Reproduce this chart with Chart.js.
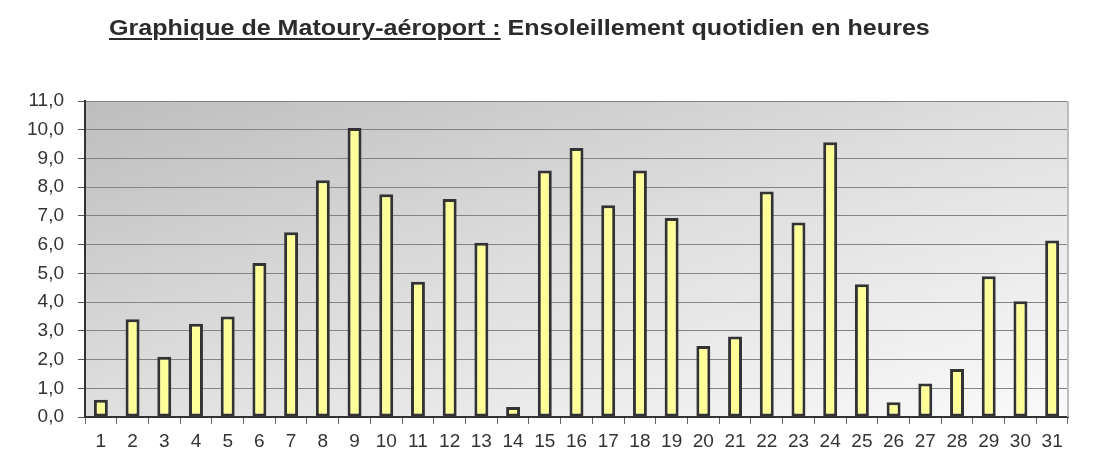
<!DOCTYPE html>
<html>
<head>
<meta charset="utf-8">
<script src="https://cdn.jsdelivr.net/npm/chart.js@4/dist/chart.umd.min.js"></script>
<style>
  html, body { margin: 0; padding: 0; background: #ffffff; }
  #wrap { position: relative; width: 1094px; height: 466px; }
  #title {
    position: absolute; left: 109px; top: 15px;
    font-family: "Liberation Sans", Arial, sans-serif; font-weight: bold; font-size: 22px;
    color: #2b2b2b; white-space: nowrap;
    transform: scaleX(1.14); transform-origin: 0 0;
  }
  #title u { text-decoration-thickness: 2px; text-underline-offset: 3px; }
  canvas { position: absolute; left: 0; top: 0; }
</style>
</head>
<body>
<div id="wrap">
  <canvas id="c" width="1094" height="466"></canvas>
  <div id="title"><u>Graphique de Matoury-aéroport :</u> Ensoleillement quotidien en heures</div>
</div>
<script>
const days = ['1','2','3','4','5','6','7','8','9','10','11','12','13','14','15','16','17','18','19','20','21','22','23','24','25','26','27','28','29','30','31'];
const sunshineHours = [0.6, 3.4, 2.1, 3.25, 3.5, 5.36, 6.43, 8.24, 10.06, 7.75,
                       4.71, 7.59, 6.07, 0.35, 8.58, 9.36, 7.37, 8.58, 6.93, 2.47,
                       2.8, 7.85, 6.77, 9.56, 4.62, 0.51, 1.17, 1.67, 4.9, 4.03, 6.14];
const yMin = 0, yMax = 11, yStep = 1;

const plotBackground = {
  id: 'plotBackground',
  beforeDraw(chart) {
    const {ctx, chartArea: a} = chart;
    ctx.save();
    ctx.translate(a.left, a.top);
    ctx.scale(a.right - a.left, a.bottom - a.top);
    const g = ctx.createLinearGradient(0, 0, 1, 1);
    g.addColorStop(0, '#bdbdbd');
    g.addColorStop(0.5, '#dfdfdf');
    g.addColorStop(1, '#fafafa');
    ctx.fillStyle = g;
    ctx.fillRect(0, 0, 1, 1);
    ctx.restore();
  },
  afterDraw(chart) {
    const {ctx, chartArea: a} = chart;
    ctx.save();
    ctx.strokeStyle = '#bdbdbd';
    ctx.lineWidth = 2;
    ctx.beginPath();
    ctx.moveTo(a.right, a.top);
    ctx.lineTo(a.right, a.bottom);
    ctx.stroke();
    ctx.restore();
  }
};

new Chart(document.getElementById('c'), {
  type: 'bar',
  data: {
    labels: days,
    datasets: [{
      data: sunshineHours,
      backgroundColor: '#ffff99',
      borderColor: '#333333',
      borderWidth: 3,
      borderSkipped: false,
      categoryPercentage: 1,
      barPercentage: 0.44
    }]
  },
  options: {
    responsive: false,
    animation: false,
    layout: { padding: { top: 101, right: 26, bottom: 0, left: 0 } },
    plugins: { legend: { display: false }, title: { display: false }, tooltip: { enabled: false } },
    scales: {
      x: {
        grid: { offset: true, drawOnChartArea: false, drawTicks: true, tickLength: 7, color: '#666666' },
        border: { color: '#333333', width: 2 },
        ticks: { color: '#333333', font: { family: 'Liberation Sans', size: 19 }, padding: 6, maxRotation: 0, autoSkip: false },
        afterFit(s) { s.height = 49; }
      },
      y: {
        min: yMin, max: yMax,
        grid: { color: '#848484', lineWidth: 1, tickLength: 7, tickColor: '#555555' },
        border: { color: '#333333', width: 2 },
        ticks: {
          stepSize: yStep, color: '#333333', padding: 14,
          font: { family: 'Liberation Sans', size: 19 },
          callback: v => v.toFixed(1).replace('.', ',')
        },
        afterFit(s) { s.width = 85; }
      }
    }
  },
  plugins: [plotBackground]
});
</script>
</body>
</html>
